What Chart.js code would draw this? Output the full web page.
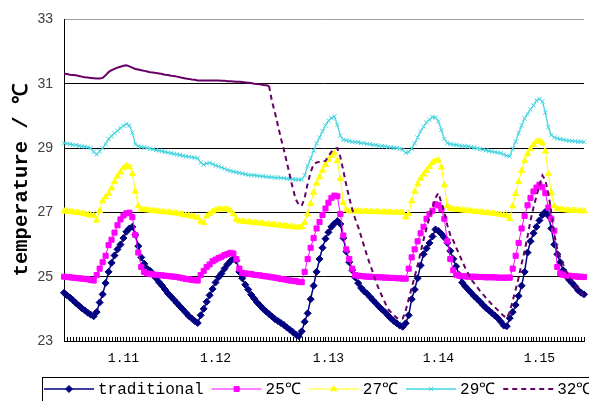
<!DOCTYPE html>
<html>
<head>
<meta charset="utf-8">
<script src="https://cdn.jsdelivr.net/npm/chart.js@4/dist/chart.umd.min.js"></script>
<style>
  html, body { margin: 0; padding: 0; background: #fff; overflow: hidden; }
  canvas { display: block; }
</style>
</head>
<body>
<canvas id="tempChart" width="589" height="401"></canvas>
<script>
// day labels and the sample index they sit under
const dayLabels = ["1.11", "1.12", "1.13", "1.14", "1.15"];
const dayLabelIndex = [20, 51, 89, 126, 160];

const traditional = [
  24.5, 24.42, 24.35, 24.27, 24.18, 24.1, 24.02, 23.95, 23.88, 23.82,
  23.77, 23.9, 24.2, 24.45, 24.8, 25.15, 25.43, 25.66, 25.85, 26.0,
  26.2, 26.4, 26.5, 26.55, 26.3, 25.95, 25.6, 25.4, 25.25, 25.18,
  25.06, 24.95, 24.83, 24.72, 24.6, 24.48, 24.38, 24.28, 24.18, 24.08,
  23.98, 23.88, 23.78, 23.7, 23.62, 23.56, 23.8, 24.0, 24.22, 24.42,
  24.62, 24.82, 24.98, 25.1, 25.25, 25.38, 25.48, 25.56, 25.5, 25.15,
  24.95, 24.75, 24.6, 24.44, 24.32, 24.2, 24.1, 24.0, 23.92, 23.84,
  23.76, 23.68, 23.62, 23.56, 23.5, 23.42, 23.35, 23.28, 23.2, 23.15,
  23.3, 23.6, 23.86, 24.3, 24.72, 25.15, 25.55, 25.9, 26.18, 26.38,
  26.55, 26.65, 26.73, 26.64, 26.2, 25.78, 25.45, 25.2, 24.98, 24.8,
  24.65, 24.55, 24.47, 24.37, 24.27, 24.17, 24.07, 23.98, 23.9, 23.8,
  23.7, 23.62, 23.55, 23.48, 23.44, 23.55, 23.8, 24.3, 24.6, 24.95,
  25.35, 25.7, 25.88, 26.05, 26.25, 26.47, 26.42, 26.33, 26.22, 26.05,
  25.8, 25.55, 25.32, 25.05, 24.82, 24.7, 24.6, 24.5, 24.4, 24.31,
  24.22, 24.12, 24.03, 23.95, 23.87, 23.79, 23.71, 23.6, 23.48, 23.46,
  23.71, 23.9, 24.12, 24.4, 24.72, 25.15, 25.75, 26.1, 26.35, 26.55,
  26.75, 26.92, 27.02, 26.9, 26.5, 26.0, 25.7, 25.45, 25.2, 25.02,
  24.9, 24.8, 24.7, 24.58, 24.5, 24.45
];

const temp25 = [
  25.0, 24.99, 24.98, 24.97, 24.96, 24.95, 24.94, 24.93, 24.92, 24.9,
  24.88, 25.05, 25.25, 25.45, 25.65, 25.98, 26.15, 26.37, 26.6, 26.78,
  26.9, 26.97, 26.99, 26.85, 26.3, 25.75, 25.3, 25.15, 25.1, 25.08,
  25.07, 25.06, 25.05, 25.04, 25.03, 25.02, 25.01, 25.0, 24.99, 24.97,
  24.95, 24.93, 24.92, 24.9, 24.89, 24.88, 25.05, 25.18, 25.3, 25.38,
  25.48, 25.53, 25.58, 25.62, 25.67, 25.7, 25.74, 25.72, 25.55, 25.25,
  25.12, 25.1, 25.09, 25.08, 25.06, 25.05, 25.04, 25.02, 25.01, 25.0,
  24.98, 24.97, 24.95, 24.93, 24.92, 24.9, 24.88, 24.87, 24.86, 24.84,
  24.83, 25.15, 25.55, 25.9, 26.2, 26.5, 26.7, 26.92, 27.12, 27.3,
  27.45, 27.52, 27.5, 26.95, 26.28, 25.85, 25.55, 25.25, 25.05, 25.03,
  25.02, 25.01, 25.0, 25.0, 24.99, 24.99, 24.98, 24.98, 24.97, 24.97,
  24.96, 24.96, 24.95, 24.95, 24.94, 24.94, 25.25, 25.6, 25.85, 26.1,
  26.35, 26.55, 26.8, 26.95, 27.05, 27.25, 27.22, 27.1, 26.8, 26.1,
  25.55, 25.2, 25.06, 25.03, 25.02, 25.01, 25.0, 25.0, 25.0, 24.99,
  24.99, 24.99, 24.98, 24.98, 24.98, 24.98, 24.97, 24.97, 24.97, 24.97,
  24.97, 25.25, 25.65, 26.05, 26.5, 26.89, 27.22, 27.45, 27.65, 27.77,
  27.86, 27.78, 27.6, 27.15, 26.8, 26.43, 25.3, 25.1, 25.06, 25.04,
  25.03, 25.02, 25.01, 25.0, 25.0, 24.99
];

const temp27 = [
  27.04, 27.03, 27.02, 27.01, 27.0, 26.99, 26.97, 26.95, 26.93, 26.91,
  26.9, 26.75, 27.05, 27.35, 27.48, 27.58, 27.75, 27.95, 28.12, 28.25,
  28.38, 28.45, 28.42, 28.2, 27.65, 27.2, 27.1, 27.08, 27.07, 27.06,
  27.05, 27.04, 27.03, 27.02, 27.01, 27.0, 26.99, 26.98, 26.97, 26.95,
  26.93, 26.91, 26.9, 26.88, 26.86, 26.84, 26.72, 26.68, 26.88, 26.96,
  27.03, 27.07, 27.1, 27.1, 27.1, 27.1, 27.05, 26.95, 26.78, 26.73,
  26.72, 26.71, 26.7, 26.69, 26.68, 26.67, 26.66, 26.65, 26.64, 26.63,
  26.62, 26.61, 26.6, 26.59, 26.58, 26.57, 26.56, 26.55, 26.54, 26.53,
  26.55, 26.68, 26.94, 27.27, 27.62, 27.9, 28.1, 28.3, 28.48, 28.64,
  28.76, 28.84, 28.6, 28.05, 27.3, 27.08, 27.04, 27.04, 27.04, 27.04,
  27.03, 27.03, 27.03, 27.02, 27.02, 27.02, 27.01, 27.01, 27.01, 27.01,
  27.0, 27.0, 27.0, 27.0, 26.99, 26.85, 26.95, 27.35, 27.65, 27.88,
  28.05, 28.18, 28.3, 28.42, 28.54, 28.6, 28.62, 28.4, 27.85, 27.2,
  27.12, 27.1, 27.09, 27.08, 27.07, 27.06, 27.05, 27.04, 27.03, 27.02,
  27.01, 27.0, 26.99, 26.98, 26.97, 26.96, 26.94, 26.93, 26.91, 26.89,
  26.8, 27.2, 27.58, 27.95, 28.3, 28.6, 28.82, 28.97, 29.1, 29.2,
  29.22, 29.15, 28.9, 28.2, 27.6, 27.2, 27.12, 27.1, 27.08, 27.07,
  27.06, 27.06, 27.05, 27.05, 27.04, 27.04
];

const temp29 = [
  29.15, 29.14, 29.12, 29.1, 29.09, 29.07, 29.05, 29.04, 29.02, 29.0,
  28.88, 28.8, 28.9, 29.0, 29.13, 29.28, 29.37, 29.46, 29.54, 29.62,
  29.69, 29.75, 29.7, 29.48, 29.12, 29.06, 29.04, 29.02, 29.0, 28.98,
  28.96, 28.94, 28.92, 28.9, 28.88, 28.86, 28.84, 28.82, 28.8, 28.78,
  28.76, 28.74, 28.73, 28.71, 28.7, 28.68, 28.55, 28.48, 28.52, 28.54,
  28.5, 28.46, 28.43, 28.4, 28.36, 28.32, 28.29, 28.27, 28.25, 28.23,
  28.21, 28.19, 28.17, 28.16, 28.15, 28.14, 28.13, 28.12, 28.11, 28.1,
  28.09, 28.08, 28.08, 28.07, 28.06, 28.05, 28.04, 28.03, 28.02, 28.02,
  28.02, 28.15, 28.45, 28.67, 28.92, 29.15, 29.33, 29.52, 29.7, 29.85,
  29.93, 29.98, 29.72, 29.38, 29.26, 29.24, 29.22, 29.2, 29.19, 29.18,
  29.16, 29.15, 29.13, 29.12, 29.1, 29.09, 29.07, 29.06, 29.05, 29.03,
  29.02, 29.01, 29.0, 28.98, 28.95, 28.85, 28.88, 28.98, 29.15, 29.33,
  29.52, 29.67, 29.8, 29.88, 29.96, 29.95, 29.83, 29.56, 29.28, 29.15,
  29.13, 29.11, 29.1, 29.08, 29.07, 29.06, 29.05, 29.03, 29.01, 28.99,
  28.97, 28.95, 28.93, 28.91, 28.89, 28.87, 28.86, 28.84, 28.8, 28.76,
  28.74, 28.98, 29.2, 29.47, 29.7, 29.92, 30.06, 30.2, 30.33, 30.48,
  30.53, 30.45, 30.1, 29.65, 29.4, 29.33, 29.3, 29.28, 29.26, 29.24,
  29.23, 29.22, 29.21, 29.2, 29.2, 29.19
];

const temp32 = [
  31.31, 31.3, 31.28, 31.27, 31.26, 31.24, 31.22, 31.2, 31.19, 31.18,
  31.17, 31.16, 31.16, 31.18, 31.26, 31.36, 31.42, 31.46, 31.5, 31.53,
  31.56, 31.57, 31.54, 31.5, 31.46, 31.44, 31.42, 31.4, 31.38, 31.36,
  31.35, 31.33, 31.32, 31.3, 31.28, 31.27, 31.25, 31.24, 31.22, 31.2,
  31.18, 31.16, 31.15, 31.13, 31.12, 31.1, 31.1, 31.1, 31.1, 31.1,
  31.1, 31.1, 31.1, 31.09, 31.09, 31.08, 31.08, 31.07, 31.06, 31.06,
  31.05, 31.04, 31.03, 31.02, 31.0, 30.99, 30.98, 30.96, 30.95, 30.93,
  30.45, 30.1, 29.7, 29.3, 28.95, 28.55, 28.15, 27.75, 27.4, 27.24,
  27.2, 27.45, 27.9, 28.25, 28.5, 28.55, 28.57, 28.58, 28.6, 28.75,
  28.88, 28.97, 29.0, 28.72, 28.3, 27.85, 27.45, 27.1, 26.8, 26.55,
  26.25, 25.95, 25.65, 25.38, 25.12, 24.85, 24.6, 24.4, 24.2, 24.0,
  23.9, 23.8, 23.72, 23.68, 23.7, 23.95, 24.3, 24.65, 25.0, 25.35,
  25.75, 26.15, 26.5, 26.85, 27.15, 27.45, 27.6, 27.3, 27.0, 26.6,
  26.3, 26.12, 25.9, 25.7, 25.48, 25.28, 25.1, 24.92, 24.8, 24.68,
  24.56, 24.45, 24.34, 24.24, 24.14, 24.05, 23.96, 23.86, 23.78, 23.71,
  23.9, 24.25, 24.6, 24.97, 25.4, 25.8, 26.25, 26.75, 27.15, 27.5,
  27.85, 28.15, 28.0, 27.6, 27.0, 26.32, 25.85, 25.6, 25.38, 25.18,
  25.0, 24.85, 24.72, 24.6, 24.5, 24.42
];

const seriesNames = ["traditional", "25\u2103", "27\u2103", "29\u2103", "32\u2103"];
const yTicks = [23, 25, 27, 29, 31, 33];

// the 32 line is solid up to this sample, dashed after
const dashFrom = 69;

const categories = traditional.map((v, i) => {
  const k = dayLabelIndex.indexOf(i);
  return k >= 0 ? dayLabels[k] : "";
});

// short tick marks standing up from the bottom axis
const innerTicks = {
  id: "innerTicks",
  beforeDatasetsDraw(chart) {
    const xs = chart.scales.x;
    const ctx = chart.ctx;
    const bottom = chart.chartArea.bottom;
    ctx.save();
    ctx.strokeStyle = "#000";
    ctx.lineWidth = 1;
    ctx.beginPath();
    for (let i = 0; i < categories.length; i++) {
      const x = Math.round(xs.getPixelForValue(i)) + 0.5;
      ctx.moveTo(x, bottom);
      ctx.lineTo(x, bottom - 4);
    }
    ctx.stroke();
    ctx.restore();
  }
};

// boxed legend along the bottom, line + marker like the original
const legendBox = {
  id: "legendBox",
  afterDraw(chart) {
    const ctx = chart.ctx;
    ctx.save();
    ctx.strokeStyle = "#000";
    ctx.lineWidth = 1;
    ctx.strokeRect(42.5, 377.5, 600, 40);
    ctx.font = '16px "Liberation Mono", monospace';
    ctx.textBaseline = "middle";
    const y = 389;
    let x = 44;
    chart.data.datasets.forEach((ds) => {
      ctx.strokeStyle = ds.borderColor;
      ctx.lineWidth = ds.borderWidth;
      ctx.setLineDash(ds.pointRadius ? [] : ds.borderDash);
      ctx.beginPath();
      ctx.moveTo(x, y);
      ctx.lineTo(x + 50, y);
      ctx.stroke();
      ctx.setLineDash([]);
      if (ds.pointRadius) {
        ctx.fillStyle = ds.backgroundColor;
        ctx.lineWidth = 1;
        Chart.helpers.drawPoint(ctx, { pointStyle: ds.pointStyle, radius: ds.pointRadius, borderWidth: 1, rotation: 0 }, x + 25, y);
      }
      ctx.fillStyle = "#000";
      ctx.fillText(ds.label, x + 54, y + 1);
      x += 54 + ctx.measureText(ds.label).width + 8;
    });
    ctx.restore();
  }
};

new Chart(document.getElementById("tempChart"), {
  type: "line",
  data: {
    labels: categories,
    datasets: [
      { label: seriesNames[0], data: traditional, borderColor: "#000080", backgroundColor: "#000080",
        borderWidth: 1.5, pointStyle: "rectRot", pointRadius: 3.5, order: 5 },
      { label: seriesNames[1], data: temp25, borderColor: "#ff00ff", backgroundColor: "#ff00ff",
        borderWidth: 1, pointStyle: "rect", pointRadius: 3.6, order: 4 },
      { label: seriesNames[2], data: temp27, borderColor: "#ffff00", backgroundColor: "#ffff00",
        borderWidth: 1, pointStyle: "triangle", pointRadius: 3.5, order: 3 },
      { label: seriesNames[3], data: temp29, borderColor: "#45d4e0", backgroundColor: "#45d4e0",
        borderWidth: 1.3, pointStyle: "crossRot", pointRadius: 3, order: 2 },
      { label: seriesNames[4], data: temp32, borderColor: "#660066", backgroundColor: "#660066",
        borderWidth: 2, pointRadius: 0, borderDash: [5, 4], order: 1,
        segment: { borderDash: (c) => (c.p0DataIndex < dashFrom ? [] : undefined) } }
    ]
  },
  options: {
    responsive: false,
    animation: false,
    devicePixelRatio: 1,
    layout: { padding: { top: 17, right: 0, bottom: 0, left: 0 } },
    elements: { line: { tension: 0 }, point: { pointBorderWidth: 1 } },
    plugins: { legend: { display: false }, tooltip: { enabled: false } },
    scales: {
      x: {
        type: "category",
        offset: false,
        grid: { display: false, drawTicks: false },
        border: { display: true, color: "#000", width: 1 },
        ticks: {
          autoSkip: false, maxRotation: 0, minRotation: 0, padding: 10,
          color: "#000", font: { family: '"Liberation Mono", monospace', size: 13 },
          callback: (v, i) => categories[i]
        },
        afterFit: (s) => { s.height = 60; s.paddingRight = 0; s.paddingLeft = 0; }
      },
      y: {
        min: 23, max: 33,
        afterBuildTicks: (s) => { s.ticks = yTicks.map((v) => ({ value: v })); },
        grid: {
          drawTicks: false,
          color: (c) => (c.tick && c.tick.value === 33 ? "#a0a0a0" : "#000")
        },
        border: { display: true, color: "#000", width: 1 },
        ticks: {
          padding: 11, color: "#404040",
          font: { family: '"Liberation Sans", Arial, sans-serif', size: 14 }
        },
        title: {
          display: true, text: "temperature / \u2103", color: "#000",
          font: { family: '"Liberation Mono", monospace', size: 20.5, weight: "bold" },
          padding: { top: 10, bottom: 0 }
        },
        afterFit: (s) => { s.width = 64; }
      }
    }
  },
  plugins: [innerTicks, legendBox]
});
</script>
</body>
</html>
